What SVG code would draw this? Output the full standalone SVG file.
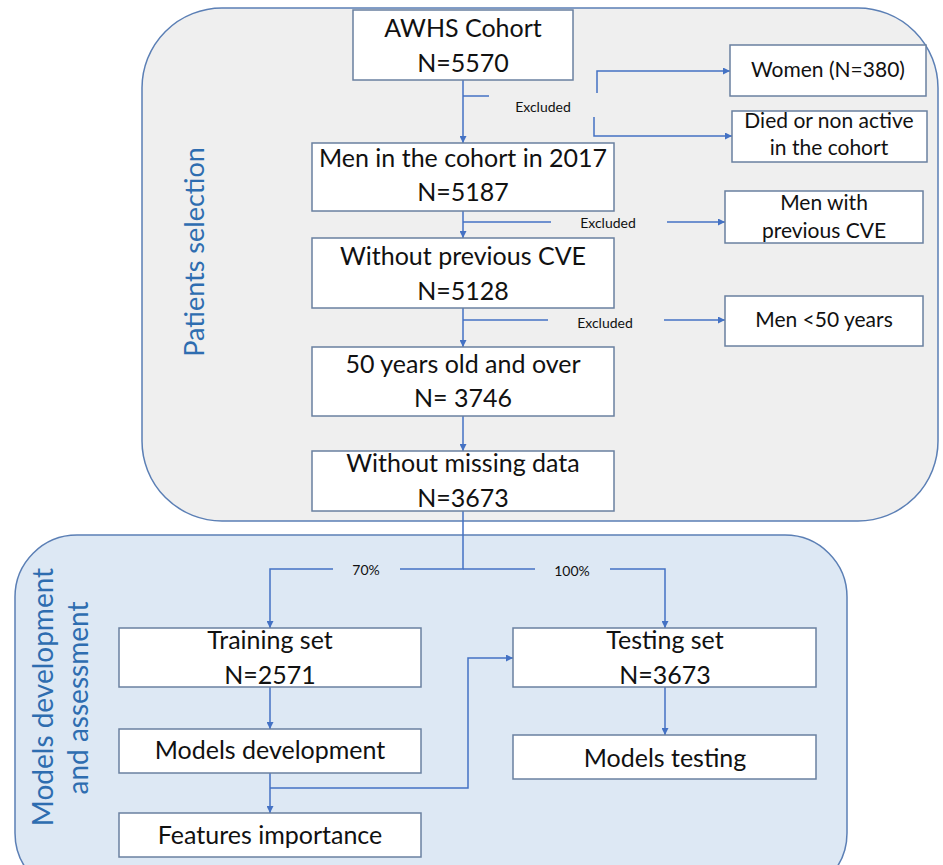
<svg xmlns="http://www.w3.org/2000/svg" width="943" height="865" viewBox="0 0 943 865">
<defs>
<marker id="ah" viewBox="0 0 10 10" refX="10" refY="5" markerWidth="7" markerHeight="7" markerUnits="userSpaceOnUse" orient="auto">
<path d="M0,0 L10,5 L0,10 z" fill="#4472c4"/>
</marker>
<style>
.box{fill:#ffffff;stroke:#6a80a0;stroke-width:1.5}
.t{font-family:Lato,"Open Sans","Liberation Sans",sans-serif;font-size:25px;fill:#111;text-anchor:middle}
.s{font-family:Lato,"Open Sans","Liberation Sans",sans-serif;font-size:21px;fill:#111;text-anchor:middle}
.x{font-family:Lato,"Open Sans","Liberation Sans",sans-serif;font-size:14px;fill:#111;text-anchor:middle}
.v{font-family:Lato,"Open Sans","Liberation Sans",sans-serif;font-size:27px;fill:#2e6db0;text-anchor:middle}
.c{fill:none;stroke:#4472c4;stroke-width:1.5}
.a{fill:none;stroke:#4472c4;stroke-width:1.5;marker-end:url(#ah)}
</style>
</defs>
<g id="containers">
<rect id="patients-selection" x="142" y="8" width="796" height="513" rx="80" ry="80" fill="#efefef" stroke="#5b7fb5" stroke-width="1.5"/>
<rect id="models-dev" x="15" y="535" width="832" height="360" rx="62" ry="62" fill="#dde8f4" stroke="#5b7fb5" stroke-width="1.5"/>
<text class="v" transform="translate(204,252) rotate(-90)">Patients selection</text>
<text class="v" style="font-size:28px" transform="translate(53,697) rotate(-90)">Models development</text>
<text class="v" style="font-size:28px" transform="translate(88,698) rotate(-90)">and assessment</text>
</g>
<g id="connectors">
<path class="a" d="M463,80 V143"/>
<path class="c" d="M463,96 H489"/>
<path class="a" d="M597,93 V71 H730"/>
<path class="a" d="M594,117 V136 H732"/>
<path class="a" d="M463,211 V238"/>
<path class="c" d="M463,222 H551"/>
<path class="a" d="M667,222 H725"/>
<path class="a" d="M463,308 V347"/>
<path class="c" d="M463,320 H548"/>
<path class="a" d="M664,320 H725"/>
<path class="a" d="M463,416 V451"/>
<path class="c" d="M463,511 V569 H400"/>
<path class="a" d="M333,569 H270 V628"/>
<path class="c" d="M463,569 H535"/>
<path class="a" d="M610,569 H665 V628"/>
<path class="a" d="M270,687 V729"/>
<path class="a" d="M270,773 V813"/>
<path class="a" d="M270,788 H468 V658 H513"/>
<path class="a" d="M665,687 V735"/>
<text class="x" x="543" y="112">Excluded</text>
<text class="x" x="608" y="228">Excluded</text>
<text class="x" x="605" y="328">Excluded</text>
<text class="x" x="366" y="575">70%</text>
<text class="x" x="572" y="576">100%</text>
</g>
<g id="awhs">
<rect class="box" x="353" y="10" width="220" height="70"/>
<text class="t" x="463" y="37">AWHS Cohort</text>
<text class="t" x="463" y="72">N=5570</text>
</g>
<g id="men2017">
<rect class="box" x="312" y="143" width="302" height="68"/>
<text class="t" x="463" y="167">Men in the cohort  in 2017</text>
<text class="t" x="463" y="201">N=5187</text>
</g>
<g id="noprevcve">
<rect class="box" x="312" y="238" width="302" height="70"/>
<text class="t" x="463" y="265">Without previous CVE</text>
<text class="t" x="463" y="300">N=5128</text>
</g>
<g id="over50">
<rect class="box" x="312" y="347" width="302" height="69"/>
<text class="t" x="463" y="373">50 years old and over</text>
<text class="t" x="463" y="407">N= 3746</text>
</g>
<g id="nomissing">
<rect class="box" x="312" y="451" width="302" height="60"/>
<text class="t" x="463" y="472">Without missing data</text>
<text class="t" x="463" y="507">N=3673</text>
</g>
<g id="women">
<rect class="box" x="730" y="45" width="196" height="51"/>
<text class="s" x="828" y="77">Women (N=380)</text>
</g>
<g id="died">
<rect class="box" x="732" y="111" width="195" height="51"/>
<text class="s" x="829" y="128">Died or non active</text>
<text class="s" x="829" y="155">in the cohort</text>
</g>
<g id="menprevcve">
<rect class="box" x="725" y="191" width="198" height="52"/>
<text class="s" x="824" y="210">Men with</text>
<text class="s" x="824" y="238">previous CVE</text>
</g>
<g id="menunder50">
<rect class="box" x="725" y="296" width="198" height="50"/>
<text class="s" x="824" y="327">Men &lt;50 years</text>
</g>
<g id="training">
<rect class="box" x="119" y="628" width="302" height="59"/>
<text class="t" x="270" y="649">Training set</text>
<text class="t" x="270" y="684">N=2571</text>
</g>
<g id="modelsdev">
<rect class="box" x="119" y="729" width="302" height="44"/>
<text class="t" x="270" y="759">Models development</text>
</g>
<g id="features">
<rect class="box" x="119" y="813" width="302" height="44"/>
<text class="t" x="270" y="844">Features importance</text>
</g>
<g id="testing">
<rect class="box" x="513" y="628" width="303" height="59"/>
<text class="t" x="665" y="649">Testing set</text>
<text class="t" x="665" y="684">N=3673</text>
</g>
<g id="modelstesting">
<rect class="box" x="513" y="735" width="303" height="44"/>
<text class="t" x="665" y="767">Models testing</text>
</g>
</svg>
